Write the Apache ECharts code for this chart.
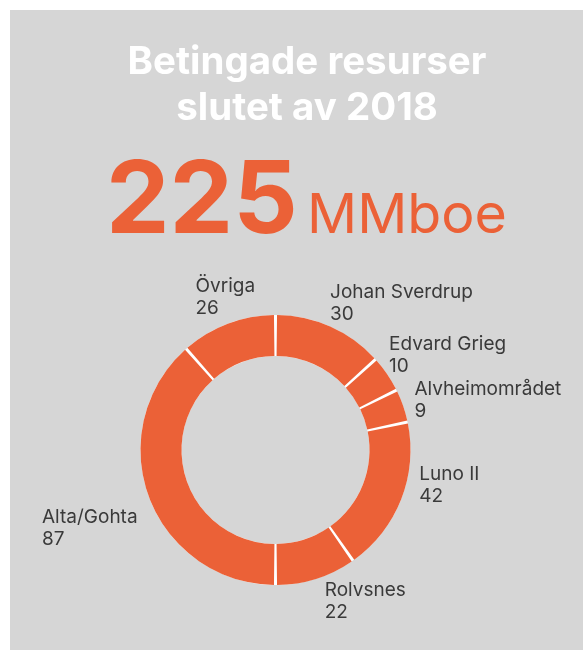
<!DOCTYPE html>
<html>
<head>
<meta charset="utf-8">
<script src="https://cdn.jsdelivr.net/npm/echarts@6/dist/echarts.min.js"></script>
<style>
  html, body { margin: 0; padding: 0; background: #ffffff; }
  #chart { position: absolute; left: 10px; top: 10px; width: 573px; height: 640px; background: #d6d6d6; }
</style>
</head>
<body>
<div id="chart"></div>
<script>
// fält och betingade resurser (MMboe), medurs från toppen
const names = ['Johan Sverdrup', 'Edvard Grieg', 'Alvheimområdet', 'Luno II', 'Rolvsnes', 'Alta/Gohta', 'Övriga']
const values = [30, 10, 9, 42, 22, 87, 26]
const total = 225

const orange = '#eb6137'
const textColor = '#3a3a3a'
const font = 'Inter'

// små förskjutningar av etiketterna från standardläget (px)
const labelShift = [
  [-10, -12],
  [-13, -12],
  [-5, -2],
  [2, -19],
  [0, 11],
  [-91, 26],
  [-23, -15],
]

const chart = echarts.init(document.getElementById('chart'))

const ringCenter = [265.5, 440]
const ringRadius = [94, 135]

const option = {
  backgroundColor: '#d6d6d6',
  title: [
    {
      text: 'Betingade resurser\nslutet av 2018',
      left: 292,
      top: 24,
      textAlign: 'center',
      textStyle: {
        color: '#ffffff',
        fontFamily: font,
        fontWeight: 'bold',
        fontSize: 38.5,
        lineHeight: 46,
      },
    },
    {
      text: String(total),
      left: 91,
      top: 137,
      textStyle: { color: orange, fontFamily: font, fontWeight: 'bold', fontSize: 101, lineHeight: 101 },
    },
    {
      text: 'MMboe',
      left: 292,
      top: 174,
      textStyle: { color: orange, fontFamily: font, fontWeight: 'normal', fontSize: 55.5, lineHeight: 54 },
    },
  ],
  series: [
    {
      // vit ring under, syns i mellanrummen mellan sektorerna
      type: 'pie',
      center: ringCenter,
      radius: ringRadius,
      silent: true,
      label: { show: false },
      labelLine: { show: false },
      itemStyle: { color: '#ffffff' },
      data: [{ name: 'bg', value: values.reduce((a, b) => a + b, 0) }],
    },
    {
      type: 'pie',
      center: ringCenter,
      radius: ringRadius,
      startAngle: 90,
      clockwise: true,
      padAngle: 1.3,
      silent: true,
      avoidLabelOverlap: false,
      itemStyle: { color: orange, borderWidth: 0 },
      label: {
        show: true,
        position: 'outside',
        formatter: '{b}\n{c}',
        color: textColor,
        fontFamily: font,
        fontSize: 19,
        lineHeight: 22,
      },
      labelLine: { show: false, length: 12, length2: 0 },
      labelLayout: function (params) {
        const s = labelShift[params.dataIndex]
        return { align: 'left', hideOverlap: false, dx: s[0], dy: s[1] }
      },
      data: names.map((n, i) => ({ name: n, value: values[i] })),
    },
  ],
}

chart.setOption(option)
window.addEventListener('resize', () => chart.resize())
</script>
</body>
</html>
